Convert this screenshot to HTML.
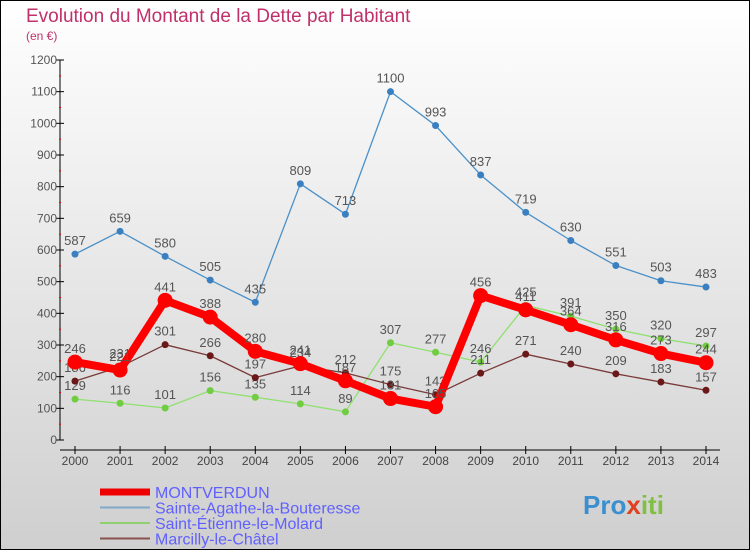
<!DOCTYPE html>
<html><head><meta charset="utf-8"><style>
body{margin:0;}
svg{display:block;font-family:"Liberation Sans","DejaVu Sans",sans-serif;}
</style></head><body>
<svg id="chart" width="750" height="550">
<defs><linearGradient id="bg" x1="0" y1="0" x2="0" y2="1"><stop offset="0" stop-color="#ffffff"/><stop offset="1" stop-color="#cfcfcf"/></linearGradient></defs>
<rect x="0.5" y="0.5" width="749" height="549" fill="url(#bg)" stroke="#000"/>
<text x="26" y="22" font-size="19" fill="#c0306a">Evolution du Montant de la Dette par Habitant</text>
<text x="26" y="40" font-size="12" fill="#c0306a">(en €)</text>
<g id="axes"></g><g id="series"></g><g id="legend"></g>
</svg>
<script>
const years=[2000,2001,2002,2003,2004,2005,2006,2007,2008,2009,2010,2011,2012,2013,2014];
const yTicks=[0,100,200,300,400,500,600,700,800,900,1000,1100,1200];
const montverdun=[246,221,441,388,280,241,187,131,105,456,411,364,316,273,244];
const sainteAgathe=[587,659,580,505,435,809,713,1100,993,837,719,630,551,503,483];
const saintEtienne=[129,116,101,156,135,114,89,307,277,246,425,391,350,320,297];
const marcilly=[186,231,301,266,197,234,212,175,143,211,271,240,209,183,157];
const NS="http://www.w3.org/2000/svg";
const xs=i=>75+i*(706-75)/(years.length-1);
const ys=v=>440-v*380/1200;
function mk(t,a,p){const e=document.createElementNS(NS,t);for(const k in a)e.setAttribute(k,a[k]);p.appendChild(e);return e;}
const ax=document.getElementById('axes');
let l=mk('line',{x1:60,y1:60,x2:60,y2:440,stroke:'#000'},ax);


l=mk('line',{x1:60,y1:450,x2:720,y2:450,stroke:'#000'},ax);


yTicks.forEach(v=>{const y=ys(v);
 mk('line',{x1:56,y1:y,x2:64,y2:y,stroke:'#000'},ax);
 if(v<1200)mk('line',{x1:59,y1:y-15.8,x2:61,y2:y-15.8,stroke:'#e00'},ax);
 const t=mk('text',{x:57,y:y+4,'font-size':12,fill:'#555','text-anchor':'end'},ax);t.textContent=v;
 
 });
years.forEach((yr,i)=>{const x=xs(i);
 mk('line',{x1:x,y1:446,x2:x,y2:454,stroke:'#000'},ax);
 const t=mk('text',{x:x,y:465,'font-size':12,fill:'#444','text-anchor':'middle'},ax);t.textContent=yr;
 
 });
const S=document.getElementById('series');
const defs=[
 {d:sainteAgathe,c:'#4a90c8',w:1.3,r:3.5,f:'#3a80c0',n:'sainte-agathe-series'},
 {d:saintEtienne,c:'#90e070',w:1.3,r:3.5,f:'#70cc40',n:'saint-etienne-series'},
 {d:marcilly,c:'#7a3a3a',w:1.3,r:3.5,f:'#6a1818',n:'marcilly-series'},
 {d:montverdun,c:'#ff0000',w:8,r:7.5,f:'#ff0000',n:'montverdun-series'}];
defs.forEach(s=>{const g=mk('g',{},S);
 
 
 const p=mk('polyline',{points:s.d.map((v,i)=>xs(i)+','+ys(v)).join(' '),fill:'none',stroke:s.c,'stroke-width':s.w,'stroke-linejoin':'round'},g);
 s.d.forEach((v,i)=>{const c=mk('circle',{cx:xs(i),cy:ys(v),r:s.r,fill:s.f},g);
  
  
  const t=mk('text',{x:xs(i),y:ys(v)-9,'font-size':13,fill:'#555','text-anchor':'middle'},g);t.textContent=v;
  
  });});
const L=document.getElementById('legend');
const leg=[['MONTVERDUN','#ee0000',7],['Sainte-Agathe-la-Bouteresse','#80a8c8',2],['Saint-Étienne-le-Molard','#90d070',2],['Marcilly-le-Châtel','#8a5050',2]];
leg.forEach((e,i)=>{const y=492+i*15.5;const g=mk('g',{},L);
 
 
 mk('line',{x1:100,y1:y,x2:150,y2:y,stroke:e[1],'stroke-width':e[2]},g);
 const t=mk('text',{x:155,y:y+6,'font-size':16,fill:'#6060ff'},g);t.textContent=e[0];});
</script>
<div style="position:absolute;left:583px;top:490px;font:bold 26px 'Liberation Sans',sans-serif;color:#f0a020"><span style="color:#3a8fd0">Pro</span><span style="color:#e04020">x</span><span style="color:#80c040">iti</span></div>
</body></html>
